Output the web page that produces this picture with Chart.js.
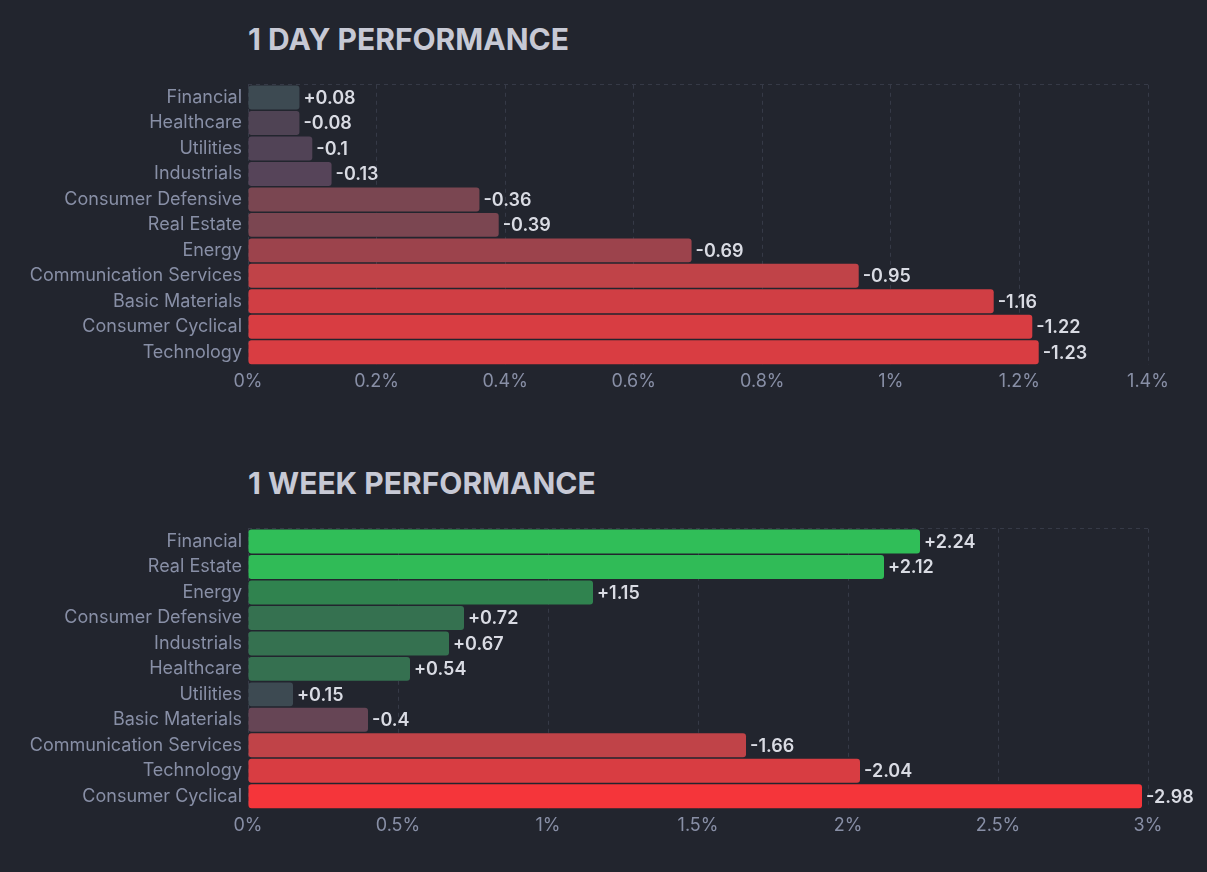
<!DOCTYPE html>
<html>
<head>
<meta charset="utf-8">
<script src="https://cdn.jsdelivr.net/npm/chart.js@4"></script>
<style>
  html, body { margin:0; padding:0; background:#22252e; width:1207px; height:872px; overflow:hidden; font-family: Inter, "Noto Sans", sans-serif; }
  .title { position:absolute; left:248px; margin:0; color:#c7c9d5; font-family: Inter, sans-serif; font-weight:700; font-size:30px; line-height:30px; letter-spacing:0px; white-space:nowrap; }
  .box { position:absolute; left:0; width:1207px; height:330px; }
</style>
</head>
<body>
<h2 class="title" style="top:24px">1 DAY PERFORMANCE</h2>
<div class="box" style="top:68px"><canvas id="c1"></canvas></div>
<h2 class="title" style="top:468px">1 WEEK PERFORMANCE</h2>
<div class="box" style="top:512px"><canvas id="c2"></canvas></div>
<script>
const dayLabels = ["Financial","Healthcare","Utilities","Industrials","Consumer Defensive","Real Estate","Energy","Communication Services","Basic Materials","Consumer Cyclical","Technology"];
const dayValues = [0.08,-0.08,-0.1,-0.13,-0.36,-0.39,-0.69,-0.95,-1.16,-1.22,-1.23];
const dayColors = ["#3d4a52","#4f4354","#514356","#564459","#7a4651","#7b4651","#9c434c","#c04348","#d03e44","#d83d42","#d93d42"];
const dayTicks = [0,0.2,0.4,0.6,0.8,1,1.2,1.4];

const weekLabels = ["Financial","Real Estate","Energy","Consumer Defensive","Industrials","Healthcare","Utilities","Basic Materials","Communication Services","Technology","Consumer Cyclical"];
const weekValues = [2.24,2.12,1.15,0.72,0.67,0.54,0.15,-0.4,-1.66,-2.04,-2.98];
const weekColors = ["#30be58","#30bb57","#30834f","#357150","#357150","#357050","#3d4a52","#664555","#c04348","#d83d42","#f5353a"];
const weekTicks = [0,0.5,1,1.5,2,2.5,3];

const GRID = "#363a47";
const TICK = "#888fa6";
const VALUE = "#d9dbe3";

const valueLabels = {
  id: "valueLabels",
  afterDatasetsDraw(chart) {
    const ctx = chart.ctx;
    const meta = chart.getDatasetMeta(0);
    const raw = chart.options.plugins.valueLabels.values;
    ctx.save();
    ctx.font = "600 18px Inter, sans-serif";
    ctx.fillStyle = VALUE;
    ctx.textBaseline = "middle";
    ctx.textAlign = "left";
    meta.data.forEach((bar, i) => {
      const v = raw[i];
      const txt = (v > 0 ? "+" : "") + String(v);
      ctx.fillText(txt, bar.x + 4, bar.y + 1);
    });
    ctx.restore();
  }
};

function makeChart(id, labels, values, colors, ticks) {
  const max = ticks[ticks.length - 1];
  return new Chart(document.getElementById(id), {
    type: "bar",
    data: {
      labels: labels,
      datasets: [{
        data: values.map(v => Math.abs(v)),
        backgroundColor: colors,
        borderRadius: 3,
        borderSkipped: false,
        barPercentage: 0.94,
        categoryPercentage: 1.0
      }]
    },
    options: {
      indexAxis: "y",
      responsive: true,
      maintainAspectRatio: false,
      animation: false,
      layout: { padding: { top: 14, right: 59, bottom: 3, left: 0 } },
      plugins: {
        legend: { display: false },
        tooltip: { enabled: false },
        valueLabels: { values: values }
      },
      scales: {
        x: {
          min: 0, max: max,
          afterBuildTicks(scale) { scale.ticks = ticks.map(v => ({ value: v })); },
          afterFit(scale) { scale.height = 30; },
          ticks: {
            color: TICK,
            font: { family: "Inter, sans-serif", size: 18 },
            padding: 6,
            callback: v => String(Math.round(v * 10) / 10) + "%"
          },
          grid: { color: GRID, drawTicks: false, lineWidth: 1 },
          border: { display: false, dash: [4, 4] }
        },
        y: {
          afterFit(scale) { scale.width = 248; },
          ticks: {
            color: TICK,
            font: { family: "Inter, sans-serif", size: 18 },
            padding: 6
          },
          grid: {
            drawTicks: false,
            offset: true,
            color: (c) => (c.index === 0 || c.index === labels.length) ? GRID : "rgba(0,0,0,0)"
          },
          border: { display: false, dash: [4, 4] }
        }
      }
    },
    plugins: [valueLabels]
  });
}

makeChart("c1", dayLabels, dayValues, dayColors, dayTicks);
makeChart("c2", weekLabels, weekValues, weekColors, weekTicks);
</script>
</body>
</html>
